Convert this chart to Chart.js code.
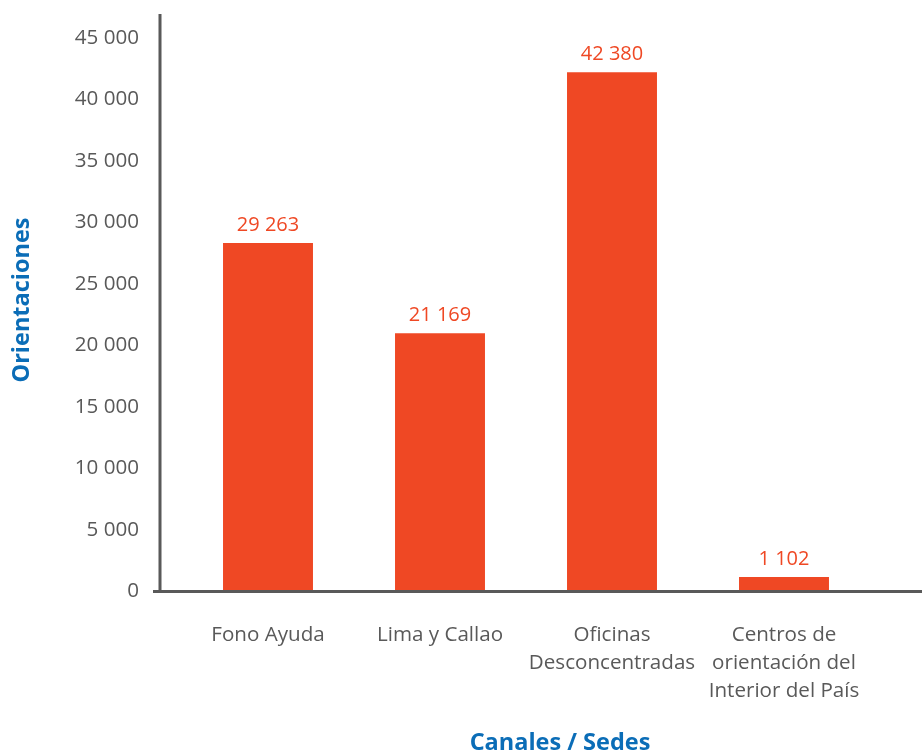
<!DOCTYPE html>
<html>
<head>
<meta charset="utf-8">
<script src="https://cdn.jsdelivr.net/npm/chart.js@4.4.1/dist/chart.umd.min.js"></script>
<style>
  html, body { margin: 0; padding: 0; background: #fff; }
  #wrap { width: 922px; height: 756px; }
</style>
</head>
<body>
<div id="wrap"><canvas id="chart" width="922" height="756"></canvas></div>
<script>
// datos
const categories = [
  ["Fono Ayuda"],
  ["Lima y Callao"],
  ["Oficinas", "Desconcentradas"],
  ["Centros de", "orientación del", "Interior del País"]
];
const barValues = [28330, 20990, 42210, 1180];
const valueLabels = ["29 263", "21 169", "42 380", "1 102"];
const yTicks = [0, 5000, 10000, 15000, 20000, 25000, 30000, 35000, 40000, 45000];

const ORANGE = "#EF4824";
const BLUE = "#0B6DB7";
const GREY = "#595959";
const FONT = "'Open Sans', 'Noto Sans', sans-serif";

// ejes y títulos dibujados a mano
const axesPlugin = {
  id: "axesLines",
  afterDraw: (chart) => {
    const ctx = chart.ctx;
    const area = chart.chartArea;
    const y0 = chart.scales.y.getPixelForValue(0);
    const yTop = chart.scales.y.getPixelForValue(45000);
    const yx = area.left - 22;

    ctx.save();
    ctx.strokeStyle = GREY;
    ctx.lineWidth = 3;
    ctx.beginPath();
    ctx.moveTo(yx, yTop - 24);
    ctx.lineTo(yx, y0 + 1.5);
    ctx.moveTo(yx - 7, y0);
    ctx.lineTo(chart.width, y0);
    ctx.stroke();

    ctx.fillStyle = BLUE;
    ctx.font = "bold 23.5px " + FONT;
    ctx.textAlign = "center";
    ctx.textBaseline = "middle";
    ctx.fillText("Canales / Sedes", 560, 743);

    ctx.translate(22, 300);
    ctx.rotate(-Math.PI / 2);
    ctx.fillText("Orientaciones", 0, 0);
    ctx.restore();
  }
};

// etiquetas de valor sobre cada barra
const valuePlugin = {
  id: "valueLabels",
  afterDatasetsDraw: (chart) => {
    const ctx = chart.ctx;
    const meta = chart.getDatasetMeta(0);
    ctx.save();
    ctx.font = "20px " + FONT;
    ctx.fillStyle = ORANGE;
    ctx.textAlign = "center";
    ctx.textBaseline = "middle";
    meta.data.forEach((bar, i) => {
      ctx.fillText(valueLabels[i], bar.x, bar.y - 18);
    });
    ctx.restore();
  }
};

new Chart(document.getElementById("chart"), {
  type: "bar",
  data: {
    labels: categories,
    datasets: [{
      data: barValues,
      backgroundColor: ORANGE,
      borderWidth: 0,
      categoryPercentage: 1,
      barPercentage: 0.523
    }]
  },
  options: {
    responsive: false,
    animation: false,
    layout: { padding: { top: 38, right: 52, left: 0, bottom: 0 } },
    plugins: {
      legend: { display: false },
      tooltip: { enabled: false }
    },
    scales: {
      x: {
        grid: { display: false },
        border: { display: false },
        ticks: {
          color: GREY,
          font: { family: FONT, size: 20.6, lineHeight: 1.36 },
          padding: 22,
          maxRotation: 0,
          autoSkip: false
        },
        afterFit: (scale) => { scale.height = 756 - 591.5; }
      },
      y: {
        min: 0,
        max: 45000,
        grid: { display: false, tickLength: 43 },
        border: { display: false },
        afterBuildTicks: (scale) => { scale.ticks = yTicks.map(v => ({ value: v })); },
        ticks: {
          color: GREY,
          font: { family: FONT, size: 20.6 },
          padding: 0,
          callback: (v) => v.toLocaleString("en-US").replace(/,/g, " ")
        },
        afterFit: (scale) => { scale.width = 182; }
      }
    }
  },
  plugins: [axesPlugin, valuePlugin]
});
</script>
</body>
</html>
